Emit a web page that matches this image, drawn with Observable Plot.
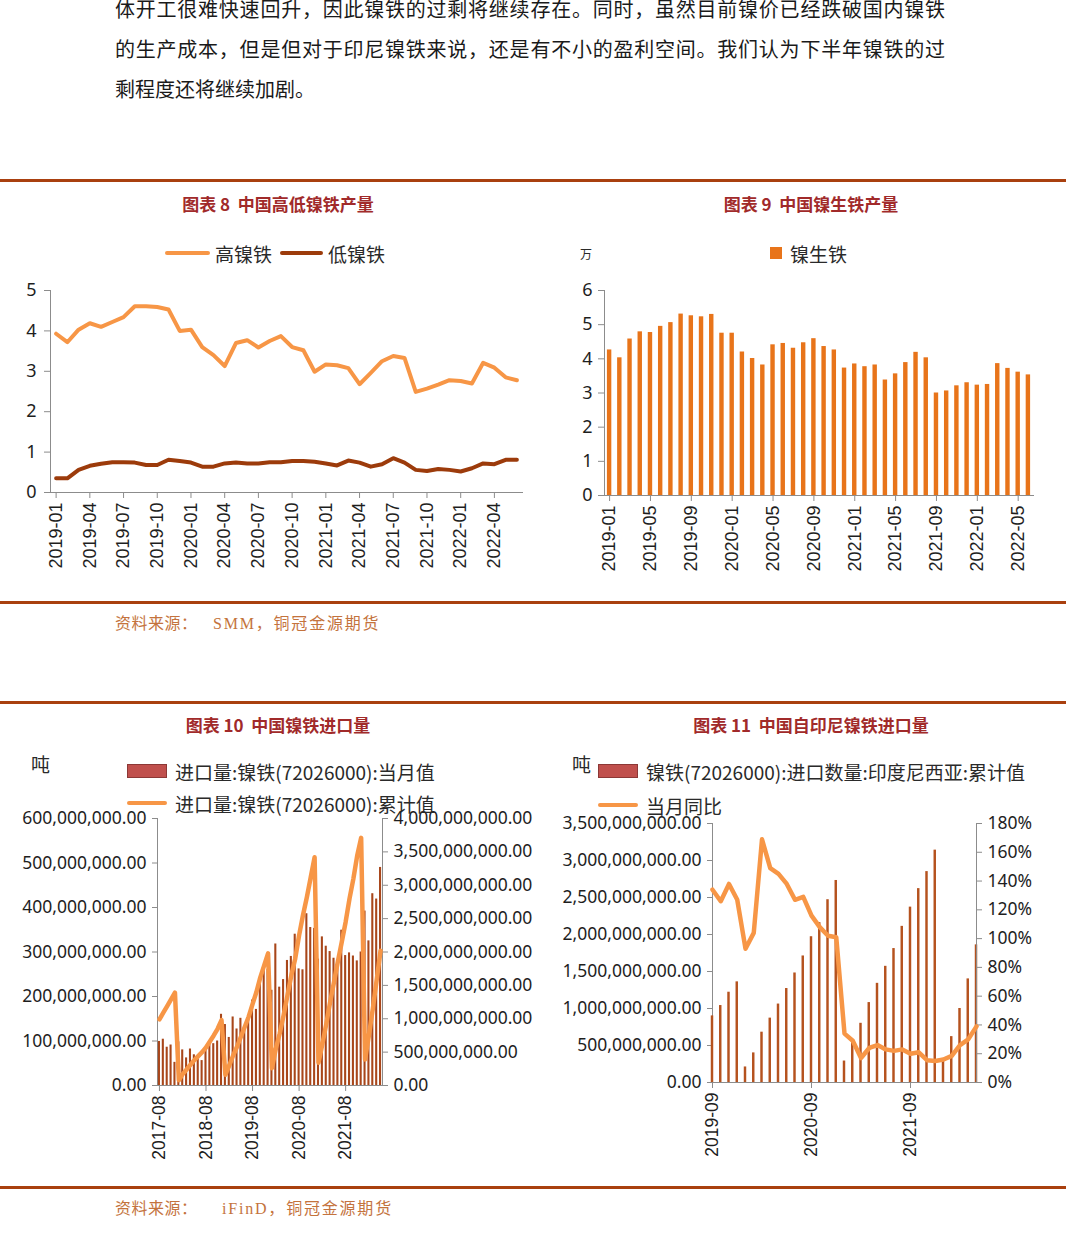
<!DOCTYPE html>
<html><head><meta charset="utf-8">
<script src="https://cdn.jsdelivr.net/npm/d3@7"></script>
<script src="https://cdn.jsdelivr.net/npm/@observablehq/plot@0.6"></script>
<style>
body{margin:0;background:#fff;}
#page{position:relative;width:1080px;height:1240px;overflow:hidden;font-family:"Noto Sans CJK SC","Noto Sans",sans-serif;background:#fff;}
.para{position:absolute;left:115px;width:830px;font-size:20px;line-height:40px;color:#1a1a1a;white-space:nowrap;font-family:"Liberation Serif","Noto Sans CJK SC",serif;}
.just{text-align:justify;text-align-last:justify;}
.rule{position:absolute;left:0;width:1066px;height:3px;background:#a9400f;}
.title{position:absolute;font-size:17px;font-weight:bold;color:#a12a2a;transform:translate(-50%,-50%);white-space:pre;}
.src{position:absolute;font-size:16px;color:#c4733d;transform:translateY(-50%);white-space:nowrap;font-family:"Liberation Serif","Noto Sans CJK SC",serif;}
.chart{position:absolute;}
.chart svg{color:#8c8c8c !important;background:transparent !important;overflow:visible;}
.chart svg text{fill:#1e1e1e;}
.leg{position:absolute;font-size:19px;color:#2a2a2a;transform:translateY(-50%);white-space:nowrap;line-height:1;}
.sw-line{position:absolute;height:4px;transform:translateY(-50%);border-radius:2px;}
.sw-box{position:absolute;}
</style>
</head><body><div id="page">

<div class="para just" style="top:-10px">体开工很难快速回升，因此镍铁的过剩将继续存在。同时，虽然目前镍价已经跌破国内镍铁</div>
<div class="para just" style="top:30px">的生产成本，但是但对于印尼镍铁来说，还是有不小的盈利空间。我们认为下半年镍铁的过</div>
<div class="para" style="top:70px">剩程度还将继续加剧。</div>

<div class="rule" style="top:179px"></div>
<div class="title" style="left:278px;top:203px">图表 8  中国高低镍铁产量</div>
<div class="title" style="left:811px;top:203px">图表 9  中国镍生铁产量</div>

<div class="sw-line" style="left:165px;width:45px;top:253px;background:#f79646"></div>
<div class="leg" style="left:215px;top:253px">高镍铁</div>
<div class="sw-line" style="left:280px;width:43px;top:253px;background:#9c3b0b"></div>
<div class="leg" style="left:328px;top:253px">低镍铁</div>

<div class="leg" style="left:580px;top:254px;font-size:12px">万</div>
<div class="sw-box" style="left:770px;top:247px;width:12px;height:12px;background:#e8741a"></div>
<div class="leg" style="left:790px;top:253px">镍生铁</div>

<div class="chart" id="c8" style="left:0px;top:270px"></div>
<div class="chart" id="c9" style="left:560px;top:270px"></div>

<div class="rule" style="top:601px"></div>
<div class="src" style="left:115px;top:622px;letter-spacing:0.5px">资料来源：</div>
<div class="src" style="left:213px;top:622px;letter-spacing:1.8px">SMM，铜冠金源期货</div>

<div class="rule" style="top:701px"></div>
<div class="title" style="left:278px;top:724px">图表 10  中国镍铁进口量</div>
<div class="title" style="left:811px;top:724px">图表 11  中国自印尼镍铁进口量</div>

<div class="leg" style="left:31px;top:763px">吨</div>
<div class="sw-box" style="left:127px;top:764px;width:38px;height:12px;background:#c0504d;border:1px solid #8c3836"></div>
<div class="leg" style="left:175px;top:771px">进口量:镍铁(72026000):当月值</div>
<div class="sw-line" style="left:127px;width:40px;top:803px;background:#f79646"></div>

<div class="leg" style="left:572px;top:763px">吨</div>
<div class="sw-box" style="left:598px;top:764px;width:38px;height:12px;background:#c0504d;border:1px solid #8c3836"></div>
<div class="leg" style="left:646px;top:771px">镍铁(72026000):进口数量:印度尼西亚:累计值</div>
<div class="sw-line" style="left:598px;width:40px;top:805px;background:#f79646"></div>
<div class="leg" style="left:646px;top:805px">当月同比</div>

<div class="chart" id="c10a" style="left:0px;top:800px"></div>
<div class="chart" id="c10b" style="left:0px;top:800px"></div>
<div class="leg" style="left:175px;top:803px">进口量:镍铁(72026000):累计值</div>
<div class="chart" id="c11a" style="left:540px;top:800px"></div>
<div class="chart" id="c11b" style="left:540px;top:800px"></div>

<div class="rule" style="top:1186px"></div>
<div class="src" style="left:115px;top:1207px;letter-spacing:0.5px">资料来源：</div>
<div class="src" style="left:222px;top:1207px;letter-spacing:1.8px">iFinD，铜冠金源期货</div>

</div>
<script>
// ---------- Chart 8 / 9 data ----------
const months8 = ["2019-01","2019-02","2019-03","2019-04","2019-05","2019-06","2019-07","2019-08","2019-09","2019-10","2019-11","2019-12",
"2020-01","2020-02","2020-03","2020-04","2020-05","2020-06","2020-07","2020-08","2020-09","2020-10","2020-11","2020-12",
"2021-01","2021-02","2021-03","2021-04","2021-05","2021-06","2021-07","2021-08","2021-09","2021-10","2021-11","2021-12",
"2022-01","2022-02","2022-03","2022-04","2022-05","2022-06"];
const highNi = [3.93,3.72,4.03,4.19,4.10,4.22,4.34,4.61,4.61,4.59,4.53,4.00,4.03,3.60,3.40,3.13,3.70,3.77,3.59,3.75,3.87,3.60,3.52,2.99,3.17,3.15,3.08,2.68,2.96,3.25,3.38,3.33,2.49,2.57,2.67,2.78,2.76,2.70,3.21,3.09,2.85,2.78];
const lowNi = [0.35,0.35,0.56,0.66,0.71,0.75,0.75,0.74,0.68,0.68,0.81,0.78,0.74,0.64,0.64,0.72,0.74,0.72,0.72,0.75,0.75,0.78,0.78,0.76,0.72,0.67,0.79,0.74,0.64,0.70,0.85,0.74,0.56,0.53,0.58,0.56,0.52,0.60,0.72,0.70,0.81,0.81];
const ticks8 = ["2019-01","2019-04","2019-07","2019-10","2020-01","2020-04","2020-07","2020-10","2021-01","2021-04","2021-07","2021-10","2022-01","2022-04"];
const yTicks8 = [0,1,2,3,4,5];

const npi9 = [4.26,4.03,4.58,4.79,4.77,4.95,5.06,5.31,5.26,5.23,5.30,4.75,4.75,4.20,4.01,3.82,4.41,4.45,4.31,4.47,4.59,4.36,4.26,3.73,3.85,3.77,3.82,3.38,3.56,3.89,4.19,4.03,3.00,3.06,3.21,3.30,3.23,3.25,3.86,3.72,3.61,3.53];
const ticks9 = ["2019-01","2019-05","2019-09","2020-01","2020-05","2020-09","2021-01","2021-05","2021-09","2022-01","2022-05"];
const yTicks9 = [0,1,2,3,4,5,6];

// ---------- Chart 10 data ----------
const months10 = ["2017-08","2017-09","2017-10","2017-11","2017-12",
"2018-01","2018-02","2018-03","2018-04","2018-05","2018-06","2018-07","2018-08","2018-09","2018-10","2018-11","2018-12",
"2019-01","2019-02","2019-03","2019-04","2019-05","2019-06","2019-07","2019-08","2019-09","2019-10","2019-11","2019-12",
"2020-01","2020-02","2020-03","2020-04","2020-05","2020-06","2020-07","2020-08","2020-09","2020-10","2020-11","2020-12",
"2021-01","2021-02","2021-03","2021-04","2021-05","2021-06","2021-07","2021-08","2021-09","2021-10","2021-11","2021-12",
"2022-01","2022-02","2022-03","2022-04","2022-05"];
// monthly imports as shown (millions)
const monthly10M = [99,104,86,91,52,98,80,62,82,69,64,56,84,93,94,100,160,137,108,154,127,151,128,153,192,171,230,262,261,214,318,221,238,281,290,340,262,260,386,355,353,284,334,313,301,286,281,349,292,298,291,280,300,392,325,431,419,490];
// cumulative imports as shown (billions)
const cum10B = [0.99,1.09,1.19,1.29,1.39,
0.08,0.17,0.24,0.31,0.38,0.44,0.50,0.57,0.66,0.75,0.85,0.98,
0.16,0.30,0.45,0.58,0.73,0.88,1.03,1.22,1.40,1.62,1.80,1.98,
0.26,0.55,0.78,1.05,1.35,1.65,1.90,2.25,2.55,2.82,3.12,3.42,
0.34,0.62,0.92,1.25,1.55,1.86,2.15,2.45,2.80,3.10,3.45,3.71,
0.39,0.75,1.15,1.58,2.02];
const ticks10 = ["2017-08","2018-08","2019-08","2020-08","2021-08"];
const yTicks10L = [0,1e8,2e8,3e8,4e8,5e8,6e8];
const yTicks10R = [0,5e8,1e9,1.5e9,2e9,2.5e9,3e9,3.5e9,4e9];

// ---------- Chart 11 data ----------
const months11 = ["2019-09","2019-10","2019-11","2019-12",
"2020-01","2020-02","2020-03","2020-04","2020-05","2020-06","2020-07","2020-08","2020-09","2020-10","2020-11","2020-12",
"2021-01","2021-02","2021-03","2021-04","2021-05","2021-06","2021-07","2021-08","2021-09","2021-10","2021-11","2021-12",
"2022-01","2022-02","2022-03","2022-04","2022-05"];
const cum11B = [0.90,1.04,1.22,1.36,0.21,0.40,0.68,0.87,1.06,1.27,1.48,1.71,1.97,2.16,2.47,2.73,0.29,0.55,0.80,1.08,1.34,1.57,1.81,2.11,2.37,2.62,2.85,3.14,0.29,0.62,1.00,1.40,1.86];
const yoy11 = [134,126,138,127,93,104,169,149,145,138,127,129,116,108,102,101,34,29,17,24,26,23,22,23,20,21,15.5,15,16,18.5,26,30,39];
const ticks11 = ["2019-09","2020-09","2021-09"];
const yTicks11L = [0,5e8,1e9,1.5e9,2e9,2.5e9,3e9,3.5e9];
const yTicks11R = [0,20,40,60,80,100,120,140,160,180];

// ---------- helpers ----------
const fmt2 = d3.format(",.2f");
const fmtInt = d3.format("d");
const baseStyle = (fs) => ({fontFamily: "'Noto Sans', 'Liberation Sans', sans-serif", fontSize: fs, background: "transparent", overflow: "visible"});
const xAxisFont = "'Liberation Sans', sans-serif";

// Chart 8
const d8 = months8.map((m, i) => ({i, m, high: highNi[i], low: lowNi[i]}));
document.getElementById("c8").append(Plot.plot({
  width: 540, height: 320, marginLeft: 50, marginRight: 18, marginTop: 20, marginBottom: 98,
  style: baseStyle("18px"),
  x: {domain: [-0.5, months8.length - 0.5], ticks: ticks8.map(t => months8.indexOf(t)), tickFormat: i => months8[i], tickRotate: -90, tickSize: 6, tickPadding: 4, line: true, label: null},
  y: {domain: [0, 5], ticks: yTicks8, tickFormat: fmtInt, tickSize: 6, tickPadding: 8, line: true, label: null},
  marks: [
    Plot.line(d8, {x: "i", y: "high", stroke: "#f79646", strokeWidth: 4}),
    Plot.line(d8, {x: "i", y: "low", stroke: "#9c3b0b", strokeWidth: 4})
  ]
}));

// Chart 9
const d9 = months8.map((m, i) => ({m, x1: i - 0.5, x2: i + 0.5, v: npi9[i]}));
document.getElementById("c9").append(Plot.plot({
  width: 500, height: 320, marginLeft: 44, marginRight: 27, marginTop: 20, marginBottom: 95,
  style: baseStyle("18px"),
  x: {domain: [-0.5, months8.length - 0.5], ticks: ticks9.map(t => months8.indexOf(t)), tickFormat: i => months8[i], tickRotate: -90, tickSize: 6, tickPadding: 4, line: true, label: null},
  y: {domain: [0, 6], ticks: yTicks9, tickFormat: fmtInt, tickSize: 6, tickPadding: 6, line: true, label: null},
  marks: [
    Plot.rectY(d9, {x1: "x1", x2: "x2", y: "v", fill: "#e8741a", insetLeft: 2.9, insetRight: 2.9})
  ]
}));

// Chart 10 (two overlaid plots for the two y axes)
const d10 = months10.map((m, i) => ({i, m, x1: i - 0.5, x2: i + 0.5, monthly: monthly10M[i] * 1e6, cum: cum10B[i] * 1e9}));
const dom10 = [-0.5, months10.length - 0.5];
const common10 = {width: 540, height: 380, marginLeft: 157, marginRight: 158, marginTop: 18, marginBottom: 95};
document.getElementById("c10a").append(Plot.plot({
  ...common10, style: baseStyle("17.5px"),
  x: {domain: dom10, ticks: ticks10.map(t => months10.indexOf(t)), tickFormat: i => months10[i], tickRotate: -90, tickSize: 6, tickPadding: 4, line: true, label: null},
  y: {domain: [0, 6e8], ticks: yTicks10L, tickFormat: fmt2, tickSize: 5, tickPadding: 6, line: true, label: null},
  marks: [
    Plot.rectY(d10, {x1: "x1", x2: "x2", y: "monthly", fill: "#a8461a", insetLeft: 0.9, insetRight: 0.9})
  ]
}));
document.getElementById("c10b").append(Plot.plot({
  ...common10, style: baseStyle("17.5px"),
  x: {domain: dom10, axis: null},
  y: {domain: [0, 4e9], axis: "right", ticks: yTicks10R, tickFormat: fmt2, tickSize: 5, tickPadding: 6, line: true, label: null},
  marks: [
    Plot.line(d10, {x: "i", y: "cum", stroke: "#f79646", strokeWidth: 4.5})
  ]
}));

// Chart 11
const d11 = months11.map((m, i) => ({i, m, x1: i - 0.5, x2: i + 0.5, cum: cum11B[i] * 1e9, yoy: yoy11[i]}));
const dom11 = [0, months11.length - 1];
const common11 = {width: 540, height: 380, marginLeft: 172, marginRight: 104, marginTop: 23, marginBottom: 98};
document.getElementById("c11a").append(Plot.plot({
  ...common11, style: baseStyle("17.5px"),
  x: {domain: dom11, ticks: ticks11.map(t => months11.indexOf(t)), tickFormat: i => months11[i], tickRotate: -90, tickSize: 6, tickPadding: 4, line: true, label: null},
  y: {domain: [0, 3.5e9], ticks: yTicks11L, tickFormat: fmt2, tickSize: 5, tickPadding: 6, line: true, label: null},
  marks: [
    Plot.rectY(d11, {x1: "x1", x2: "x2", y: "cum", fill: "#b5521e", insetLeft: 2.9, insetRight: 2.9})
  ]
}));
document.getElementById("c11b").append(Plot.plot({
  ...common11, style: baseStyle("17.5px"),
  x: {domain: dom11, axis: null},
  y: {domain: [0, 180], axis: "right", ticks: yTicks11R, tickFormat: d => d + "%", tickSize: 5, tickPadding: 6, line: true, label: null},
  marks: [
    Plot.line(d11, {x: "i", y: "yoy", stroke: "#f79646", strokeWidth: 4.5})
  ]
}));

// rotated x labels use an Arial-like face
document.querySelectorAll(".chart svg").forEach(svg => {
  svg.querySelectorAll('[aria-label^="x-axis"] text').forEach(t => t.style.fontFamily = xAxisFont);
});
</script>
</body></html>
